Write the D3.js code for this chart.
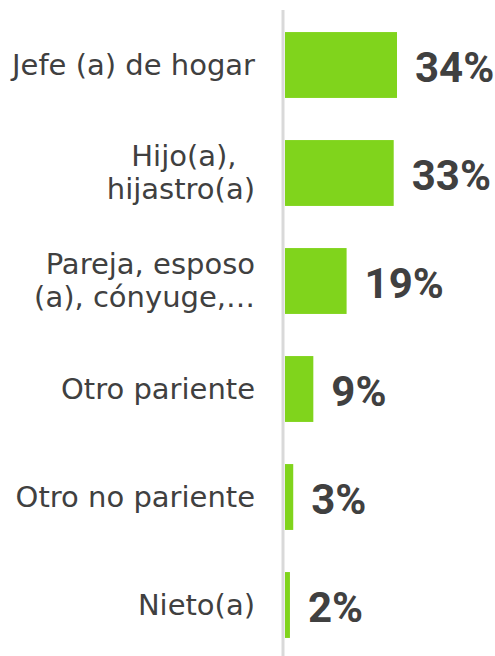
<!DOCTYPE html>
<html>
<head>
<meta charset="utf-8">
<script src="https://cdn.jsdelivr.net/npm/d3@7"></script>
<style>
    body { margin: 0; background: #fff; }
    svg { display: block; }
    .cat { white-space: pre; }
</style>
</head>
<body>
<div id="chart"></div>
<script>
// data, top to bottom (wrapped lines as in the original)
var categories = [
    ["Jefe (a) de hogar"],
    ["Hijo(a),  ", "hijastro(a)"],
    ["Pareja, esposo", "(a), cónyuge,…"],
    ["Otro pariente"],
    ["Otro no pariente"],
    ["Nieto(a)"]
];
var values = [34.0, 33.0, 18.7, 8.6, 2.5, 1.5];

var width = 495;
var height = 656;

var data = categories.map(function (c, i) { return { lines: c, value: values[i] }; });

var svg = d3.select("#chart")
    .append("svg")
    .attr("width", width)
    .attr("height", height);

var x = d3.scaleLinear()
    .domain([0, 100])
    .range([285, 285 + 329.4]);

var y = d3.scaleBand()
    .domain(d3.range(data.length))
    .range([11, 659])
    .paddingInner(0.39)
    .paddingOuter(0.195);

// vertical axis line
svg.append("line")
    .attr("x1", x(0) - 2)
    .attr("x2", x(0) - 2)
    .attr("y1", 10)
    .attr("y2", height)
    .attr("stroke", "#d9d9d9")
    .attr("stroke-width", 3);

svg.selectAll(".bar")
    .data(data)
    .enter().append("rect")
    .attr("class", "bar")
    .attr("x", x(0))
    .attr("y", function (d, i) { return y(i); })
    .attr("width", function (d) { return x(d.value) - x(0); })
    .attr("height", y.bandwidth())
    .attr("fill", "#80d41c");

// category labels
var lineH = 33;
svg.selectAll(".cat")
    .data(data)
    .enter().append("text")
    .attr("class", "cat")
    .attr("text-anchor", "end")
    .style("font", "29px 'DejaVu Sans'")
    .attr("fill", "#404040")
    .each(function (d, i) {
        var cy = y(i) + y.bandwidth() / 2;
        var first = cy + 10 - (d.lines.length - 1) * 17.5;
        d3.select(this).selectAll("tspan")
            .data(d.lines)
            .enter().append("tspan")
            .attr("x", 255)
            .attr("y", function (l, j) { return first + j * lineH; })
            .text(function (l) { return l; });
    });

// value labels
svg.selectAll(".val")
    .data(data)
    .enter().append("text")
    .attr("class", "val")
    .attr("x", function (d) { return x(d.value) + 18; })
    .attr("y", function (d, i) { return y(i) + y.bandwidth() / 2 + 16.5; })
    .style("font", "bold 42px Roboto")
    .attr("fill", "#404040")
    .text(function (d) { return Math.round(d.value) + "%"; });
</script>
</body>
</html>
